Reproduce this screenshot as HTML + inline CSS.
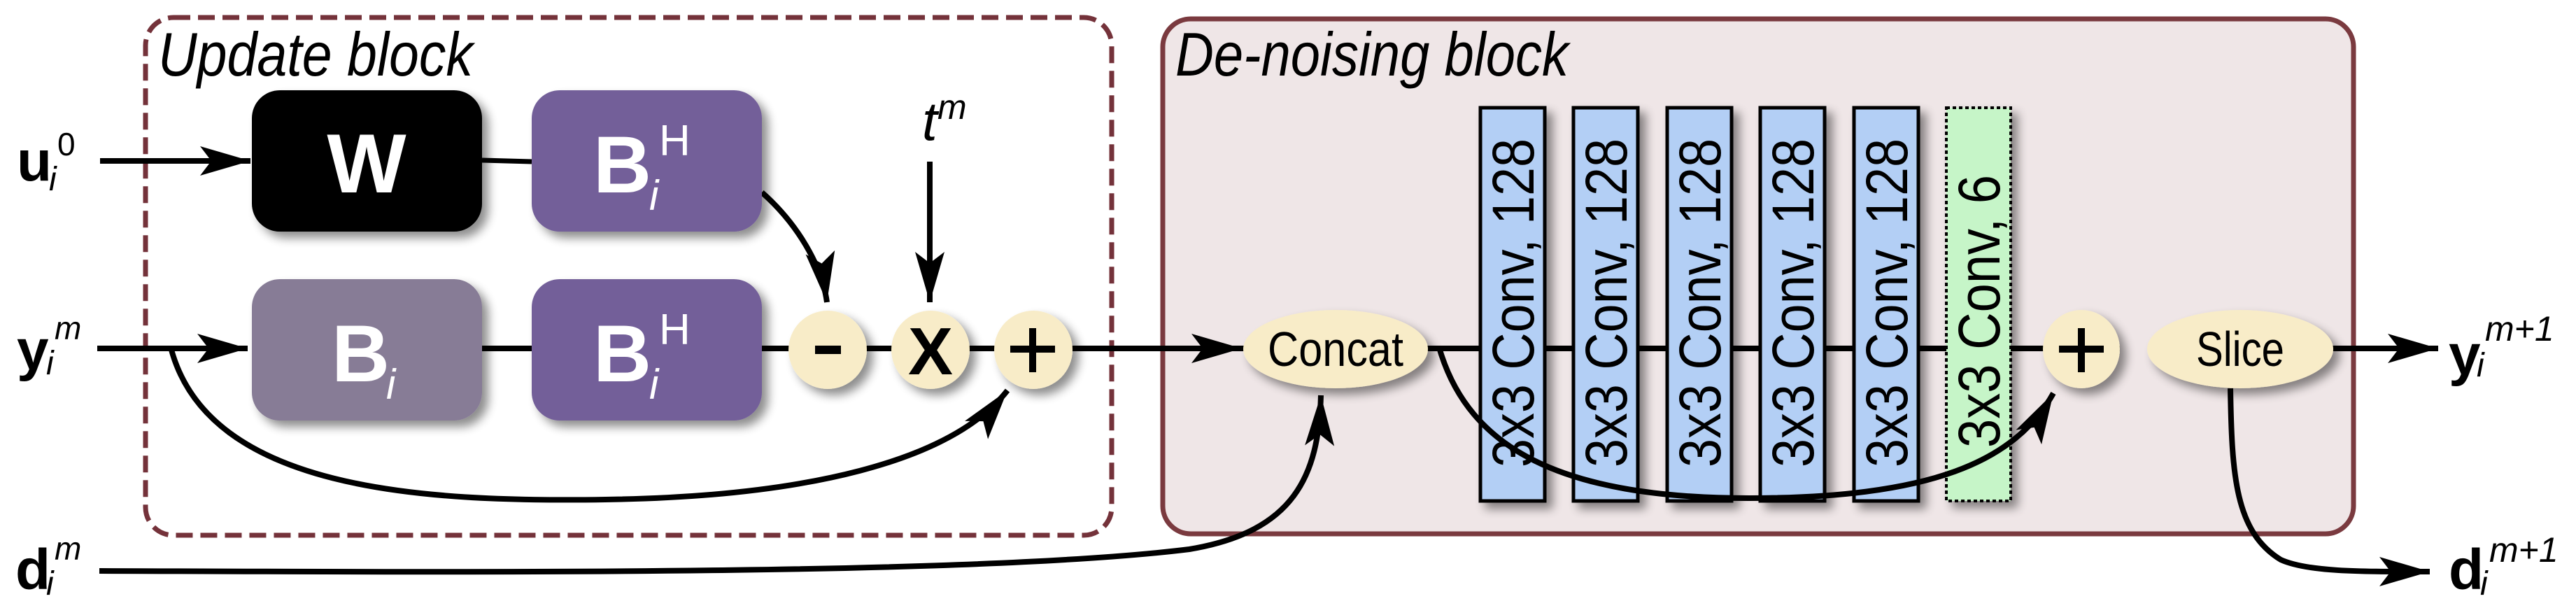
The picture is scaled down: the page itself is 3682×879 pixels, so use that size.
<!DOCTYPE html>
<html><head><meta charset="utf-8"><style>
html,body{margin:0;padding:0;background:#fff;}
svg{display:block;}
text{font-family:"Liberation Sans","DejaVu Sans",sans-serif;}
</style></head><body>
<svg width="3682" height="879" viewBox="0 0 3682 879" xmlns="http://www.w3.org/2000/svg">
<defs>
<marker id="ah" markerUnits="userSpaceOnUse" markerWidth="80" markerHeight="50" refX="72" refY="21" orient="auto">
<path d="M0,0 L72,21 L0,42 L16,21 Z" fill="#000"/>
</marker>
<filter id="sh" x="-20%" y="-20%" width="150%" height="150%">
<feGaussianBlur in="SourceAlpha" stdDeviation="7"/>
<feOffset dx="9" dy="9" result="b"/>
<feComponentTransfer><feFuncA type="linear" slope="0.45"/></feComponentTransfer>
<feMerge><feMergeNode/><feMergeNode in="SourceGraphic"/></feMerge>
</filter>
</defs>

<!-- Update block -->
<rect x="208" y="25" width="1381" height="740" rx="40" fill="none" stroke="#74323a" stroke-width="7" stroke-dasharray="24,11"/>
<text x="226" y="108" font-size="88" font-style="italic" textLength="450" lengthAdjust="spacingAndGlyphs">Update block</text>

<!-- Denoising block -->
<rect x="1662" y="27" width="1702" height="736" rx="40" fill="#efe6e7" stroke="#7a3a3f" stroke-width="7"/>
<text x="1680" y="108" font-size="88" font-style="italic" textLength="562" lengthAdjust="spacingAndGlyphs">De-noising block</text>

<!-- main lines -->
<line x1="143" y1="230" x2="358" y2="230" stroke="#000" stroke-width="8" marker-end="url(#ah)"/>
<line x1="689" y1="229" x2="760" y2="231" stroke="#000" stroke-width="7"/>
<line x1="139" y1="498" x2="354" y2="498" stroke="#000" stroke-width="8" marker-end="url(#ah)"/>
<line x1="689" y1="498" x2="3030" y2="498" stroke="#000" stroke-width="8"/>
<line x1="1500" y1="498" x2="1775" y2="498" stroke="#000" stroke-width="8" marker-end="url(#ah)"/>
<line x1="3330" y1="498" x2="3485" y2="498" stroke="#000" stroke-width="8" marker-end="url(#ah)"/>

<!-- curves -->
<path d="M1089,275 C1140,320 1175,380 1182,432" fill="none" stroke="#000" stroke-width="8" marker-end="url(#ah)"/>
<line x1="1329" y1="231" x2="1329" y2="432" stroke="#000" stroke-width="8" marker-end="url(#ah)"/>
<path d="M245,500 C300,700 600,718 865,714 C1150,710 1360,660 1440,558" fill="none" stroke="#000" stroke-width="8" marker-end="url(#ah)"/>
<path d="M142,816 C700,818 1400,822 1700,785 C1850,760 1885,680 1888,565" fill="none" stroke="#000" stroke-width="8" marker-end="url(#ah)"/>
<path d="M3188,555 C3190,680 3195,760 3260,800 C3300,818 3380,817 3473,817" fill="none" stroke="#000" stroke-width="8" marker-end="url(#ah)"/>

<!-- left boxes -->
<g filter="url(#sh)">
<rect x="360" y="129" width="329" height="202" rx="40" fill="#000"/>
<rect x="760" y="129" width="329" height="202" rx="40" fill="#735f99"/>
<rect x="360" y="399" width="329" height="202" rx="40" fill="#877c96"/>
<rect x="760" y="399" width="329" height="202" rx="40" fill="#735f99"/>
<circle cx="1183" cy="500" r="56" fill="#f8ecc8"/>
<circle cx="1330" cy="500" r="56" fill="#f8ecc8"/>
<circle cx="1477" cy="500" r="56" fill="#f8ecc8"/>
</g>
<text x="524" y="275" font-size="120" font-weight="bold" fill="#fff" text-anchor="middle">W</text>
<text x="848" y="275" font-size="115" font-weight="bold" fill="#fff">B</text>
<text x="928" y="300" font-size="60" font-style="italic" fill="#fff">i</text>
<text x="942" y="222" font-size="62" fill="#fff">H</text>
<text x="474" y="545" font-size="115" font-weight="bold" fill="#fff">B</text>
<text x="552" y="570" font-size="60" font-style="italic" fill="#fff">i</text>
<text x="848" y="545" font-size="115" font-weight="bold" fill="#fff">B</text>
<text x="928" y="570" font-size="60" font-style="italic" fill="#fff">i</text>
<text x="942" y="492" font-size="62" fill="#fff">H</text>
<rect x="1165" y="494" width="37" height="12" fill="#000"/>
<text x="1330" y="535" font-size="96" font-weight="bold" text-anchor="middle">X</text>
<rect x="1444" y="494" width="64" height="10" fill="#000"/>
<rect x="1471" y="469" width="10" height="63" fill="#000"/>

<!-- t^m -->
<text x="1318" y="200" font-size="78" font-style="italic">t</text>
<text x="1340" y="170" font-size="50" font-style="italic">m</text>

<!-- left labels -->
<text x="24" y="258" font-size="82" font-weight="bold">u</text>
<text x="70" y="272" font-size="48" font-style="italic">i</text>
<text x="82" y="222" font-size="46">0</text>
<text x="24" y="528" font-size="82" font-weight="bold">y</text>
<text x="66" y="535" font-size="48" font-style="italic">i</text>
<text x="78" y="485" font-size="46" font-style="italic">m</text>
<text x="22" y="842" font-size="82" font-weight="bold">d</text>
<text x="66" y="850" font-size="48" font-style="italic">i</text>
<text x="78" y="800" font-size="46" font-style="italic">m</text>

<!-- right labels -->
<text x="3500" y="535" font-size="82" font-weight="bold">y</text>
<text x="3540" y="538" font-size="48" font-style="italic">i</text>
<text x="3552" y="487" font-size="50" font-style="italic">m+1</text>
<text x="3500" y="842" font-size="82" font-weight="bold">d</text>
<text x="3545" y="850" font-size="48" font-style="italic">i</text>
<text x="3558" y="803" font-size="50" font-style="italic">m+1</text>

<!-- ellipses right -->
<g filter="url(#sh)">
<ellipse cx="1909" cy="499" rx="132" ry="56" fill="#f8ecc8"/>
<ellipse cx="3202" cy="499" rx="133" ry="56" fill="#f8ecc8"/>
</g>
<text x="1909" y="523" font-size="70" text-anchor="middle" textLength="194" lengthAdjust="spacingAndGlyphs">Concat</text>
<text x="3202" y="523" font-size="70" text-anchor="middle" textLength="126" lengthAdjust="spacingAndGlyphs">Slice</text>

<!-- conv bars -->
<g filter="url(#sh)">
<rect x="2116" y="154" width="92" height="562" fill="#b3cff5" stroke="#000" stroke-width="5"/>
<rect x="2249" y="154" width="92" height="562" fill="#b3cff5" stroke="#000" stroke-width="5"/>
<rect x="2383" y="154" width="92" height="562" fill="#b3cff5" stroke="#000" stroke-width="5"/>
<rect x="2516" y="154" width="92" height="562" fill="#b3cff5" stroke="#000" stroke-width="5"/>
<rect x="2650" y="154" width="92" height="562" fill="#b3cff5" stroke="#000" stroke-width="5"/>
<rect x="2782" y="154" width="92" height="562" fill="#c6f5c8" stroke="#000" stroke-width="4" stroke-dasharray="5,4"/>
</g>
<g font-family="DejaVu Sans, sans-serif" font-size="84">
<text transform="translate(2192,668) rotate(-90)" textLength="470" lengthAdjust="spacingAndGlyphs">3x3 Conv, 128</text>
<text transform="translate(2325,668) rotate(-90)" textLength="470" lengthAdjust="spacingAndGlyphs">3x3 Conv, 128</text>
<text transform="translate(2459,668) rotate(-90)" textLength="470" lengthAdjust="spacingAndGlyphs">3x3 Conv, 128</text>
<text transform="translate(2592,668) rotate(-90)" textLength="470" lengthAdjust="spacingAndGlyphs">3x3 Conv, 128</text>
<text transform="translate(2726,668) rotate(-90)" textLength="470" lengthAdjust="spacingAndGlyphs">3x3 Conv, 128</text>
<text transform="translate(2858,640) rotate(-90)" textLength="390" lengthAdjust="spacingAndGlyphs">3x3 Conv, 6</text>
</g>

<!-- skip over convs -->
<path d="M2058,500 C2100,640 2230,712 2500,712 C2760,712 2880,660 2935,562" fill="none" stroke="#000" stroke-width="8" marker-end="url(#ah)"/>

<!-- plus right -->
<g filter="url(#sh)"><ellipse cx="2975" cy="499" rx="55" ry="56" fill="#f8ecc8"/></g>
<rect x="2943" y="494" width="64" height="10" fill="#000"/>
<rect x="2970" y="469" width="10" height="63" fill="#000"/>
</svg>
</body></html>
